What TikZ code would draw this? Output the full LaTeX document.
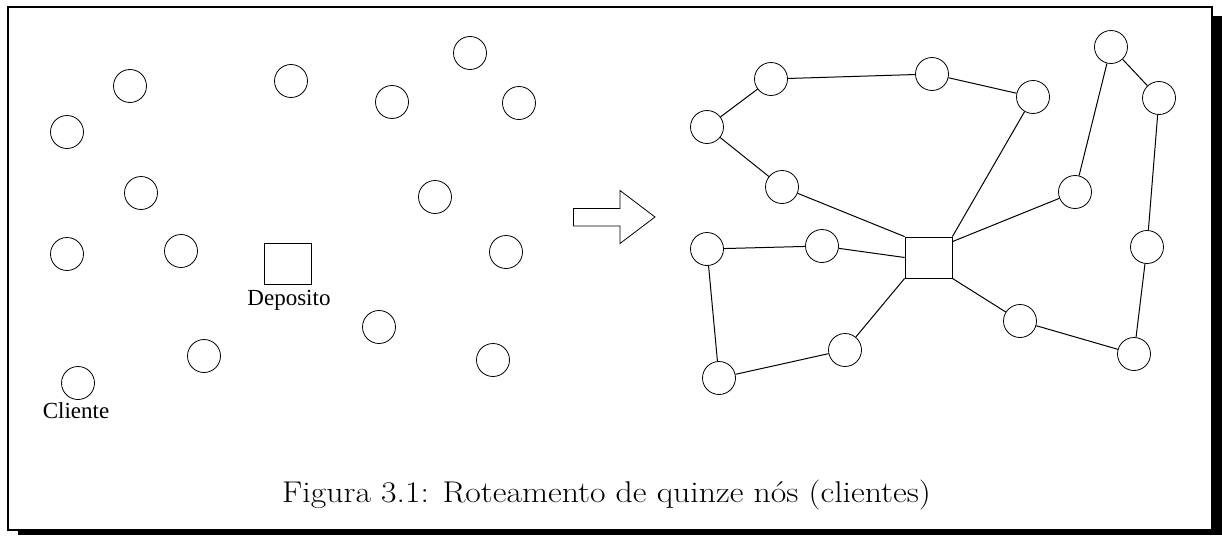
\documentclass[tikz,border=0pt]{standalone}
\usepackage{fontspec}
\newfontfamily\timesf{Liberation Serif}
\begin{document}
\begin{tikzpicture}[x=1pt,y=-1pt,
  cli/.style={circle,draw,line width=0.8pt,minimum size=33pt,inner sep=0pt},
  dep/.style={rectangle,draw,line width=0.8pt,minimum width=47pt,minimum height=41pt,inner sep=0pt},
  lbl/.style={font=\timesf\fontsize{23}{26}\selectfont,inner sep=0pt},
  edge/.style={line width=1pt},
  frame/.style={line width=2.4pt}]
\useasboundingbox (0,0) rectangle (1222,535);
% shadow and frame
\fill (1212,16) rectangle (1222,535);
\fill (18,530) rectangle (1222,535);
\draw[frame] (8,7) rectangle (1212,530);
% left: unordered clients
\node[cli] (l1) at (130,86) {};
\node[cli] (l2) at (291,81) {};
\node[cli] (l3) at (470,53) {};
\node[cli] (l4) at (392,102) {};
\node[cli] (l5) at (519,103) {};
\node[cli] (l6) at (67,132) {};
\node[cli] (l7) at (141,193) {};
\node[cli] (l8) at (435,197) {};
\node[cli] (l9) at (67,254) {};
\node[cli] (l10) at (181,251) {};
\node[cli] (l11) at (506,252) {};
\node[cli] (l12) at (379,327) {};
\node[cli] (l13) at (204,356) {};
\node[cli] (l14) at (493,360) {};
\node[cli] (l15) at (78,383) {};
\node[dep] (ldep) at (288,263.5) {};
\node[lbl] (tdep) at (289,300) {Deposito};
\node[lbl] (tcli) at (76,411) {Cliente};
% block arrow
\draw[line width=0.8pt] (573.5,208.5) -- (620,208.5) -- (620,190.5) -- (655,217) -- (620,243.5) -- (620,226) -- (573.5,226) -- cycle;
% right: routes
\node[cli] (A) at (771,79) {};
\node[cli] (B) at (932,74) {};
\node[cli] (C) at (1033,97) {};
\node[cli] (D) at (707,127) {};
\node[cli] (E) at (782,187) {};
\node[cli] (F) at (1111,47) {};
\node[cli] (G) at (1159,98) {};
\node[cli] (H) at (1075,192) {};
\node[cli] (I) at (707,249) {};
\node[cli] (J) at (822,246) {};
\node[cli] (K) at (1147,247) {};
\node[cli] (L) at (1020,321) {};
\node[cli] (M) at (1134,354) {};
\node[cli] (N) at (845,350) {};
\node[cli] (O) at (719,378) {};
\node[dep] (sq) at (928.5,257.5) {};
\draw[edge] (D) -- (A);
\draw[edge] (A) -- (B);
\draw[edge] (B) -- (C);
\draw[edge] (C) -- (sq.north east);
\draw[edge] (D) -- (E);
\draw[edge] (E) -- (sq.north west);
\draw[edge] (I) -- (J);
\draw[edge] (J) -- (sq.west);
\draw[edge] (I) -- (O);
\draw[edge] (O) -- (N);
\draw[edge] (N) -- (sq.south west);
\draw[edge] (sq.south east) -- (L);
\draw[edge] (L) -- (M);
\draw[edge] (M) -- (K);
\draw[edge] (K) -- (G);
\draw[edge] (G) -- (F);
\draw[edge] (F) -- (H);
\draw[edge] (H) -- ([yshift=-5pt]sq.north east);
% caption
\node[font=\fontsize{30}{34}\selectfont,inner sep=0pt,anchor=base] (cap) at (606.5,502) {\scalebox{1.124}[1]{Figura 3.1: Roteamento de quinze nós (clientes)}};
\end{tikzpicture}
\end{document}
